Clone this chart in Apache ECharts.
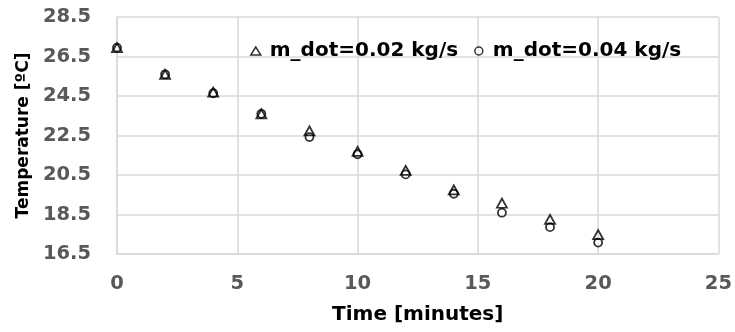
<!DOCTYPE html>
<html><head><meta charset="utf-8">
<script src="https://cdn.jsdelivr.net/npm/echarts@6/dist/echarts.min.js"></script>
<style>html,body{margin:0;padding:0;background:#fff}#c{width:735px;height:332px}</style>
</head><body><div id="c"></div>
<script>
const times = [0, 2, 4, 6, 8, 10, 12, 14, 16, 18, 20];
const temp002 = [26.95, 25.6, 24.7, 23.6, 22.73, 21.7, 20.73, 19.75, 19.07, 18.25, 17.48];
const temp004 = [26.95, 25.6, 24.64, 23.6, 22.42, 21.55, 20.53, 19.55, 18.59, 17.86, 17.08];
const seriesNames = ['m_dot=0.02 kg/s', 'm_dot=0.04 kg/s'];
const xTitle = 'Time [minutes]';
const yTitle = 'Temperature [ºC]';

const font = '"DejaVu Sans", sans-serif';
const chart = echarts.init(document.getElementById('c'));
chart.setOption({
  animation: false,
  backgroundColor: '#fff',
  grid: {left: 117, right: 15, top: 17, bottom: 78},
  legend: {
    top: 36, left: 245, itemGap: 16, itemWidth: 10, itemHeight: 8,
    textStyle: {fontFamily: font, fontWeight: 'bold', fontSize: 20, color: '#000', padding: [0, 0, 0, 4]},
    data: [
      {name: seriesNames[0], icon: 'triangle', itemStyle: {color: '#fff', borderColor: '#000', borderWidth: 1.5}},
      {name: seriesNames[1], icon: 'circle', itemStyle: {color: '#fff', borderColor: '#000', borderWidth: 1.5}}
    ]
  },
  xAxis: {
    type: 'value', min: 0, max: 25, interval: 5,
    name: xTitle, nameLocation: 'middle', nameGap: 51,
    nameTextStyle: {fontFamily: font, fontWeight: 'bold', fontSize: 20, color: '#000'},
    axisLine: {show: true, lineStyle: {color: '#d9d9d9', width: 1.5}},
    axisTick: {show: false},
    axisLabel: {fontFamily: font, fontWeight: 'bold', fontSize: 19.5, color: '#595959', margin: 20},
    splitLine: {show: true, lineStyle: {color: '#d9d9d9', width: 1.5}}
  },
  yAxis: {
    type: 'value', min: 16.5, max: 28.5, interval: 2,
    name: yTitle, nameLocation: 'middle', nameGap: 84, nameRotate: 90,
    nameTextStyle: {fontFamily: font, fontWeight: 'bold', fontSize: 17, color: '#000'},
    axisLine: {show: true, lineStyle: {color: '#d9d9d9', width: 1.5}},
    axisTick: {show: false},
    axisLabel: {fontFamily: font, fontWeight: 'bold', fontSize: 19.5, color: '#595959', margin: 26, formatter: v => v.toFixed(1)},
    splitLine: {show: true, lineStyle: {color: '#d9d9d9', width: 1.5}}
  },
  series: [
    {
      name: seriesNames[1], type: 'scatter', symbol: 'circle', symbolSize: 8,
      itemStyle: {color: '#fff', borderColor: '#000', borderWidth: 1.8},
      data: times.map((t, i) => [t, temp004[i]])
    },
    {
      name: seriesNames[0], type: 'scatter', symbol: 'triangle', symbolSize: [10, 9],
      itemStyle: {color: 'rgba(255,255,255,0)', borderColor: '#000', borderWidth: 1.8},
      data: times.map((t, i) => [t, temp002[i]])
    }
  ]
});
</script></body></html>
